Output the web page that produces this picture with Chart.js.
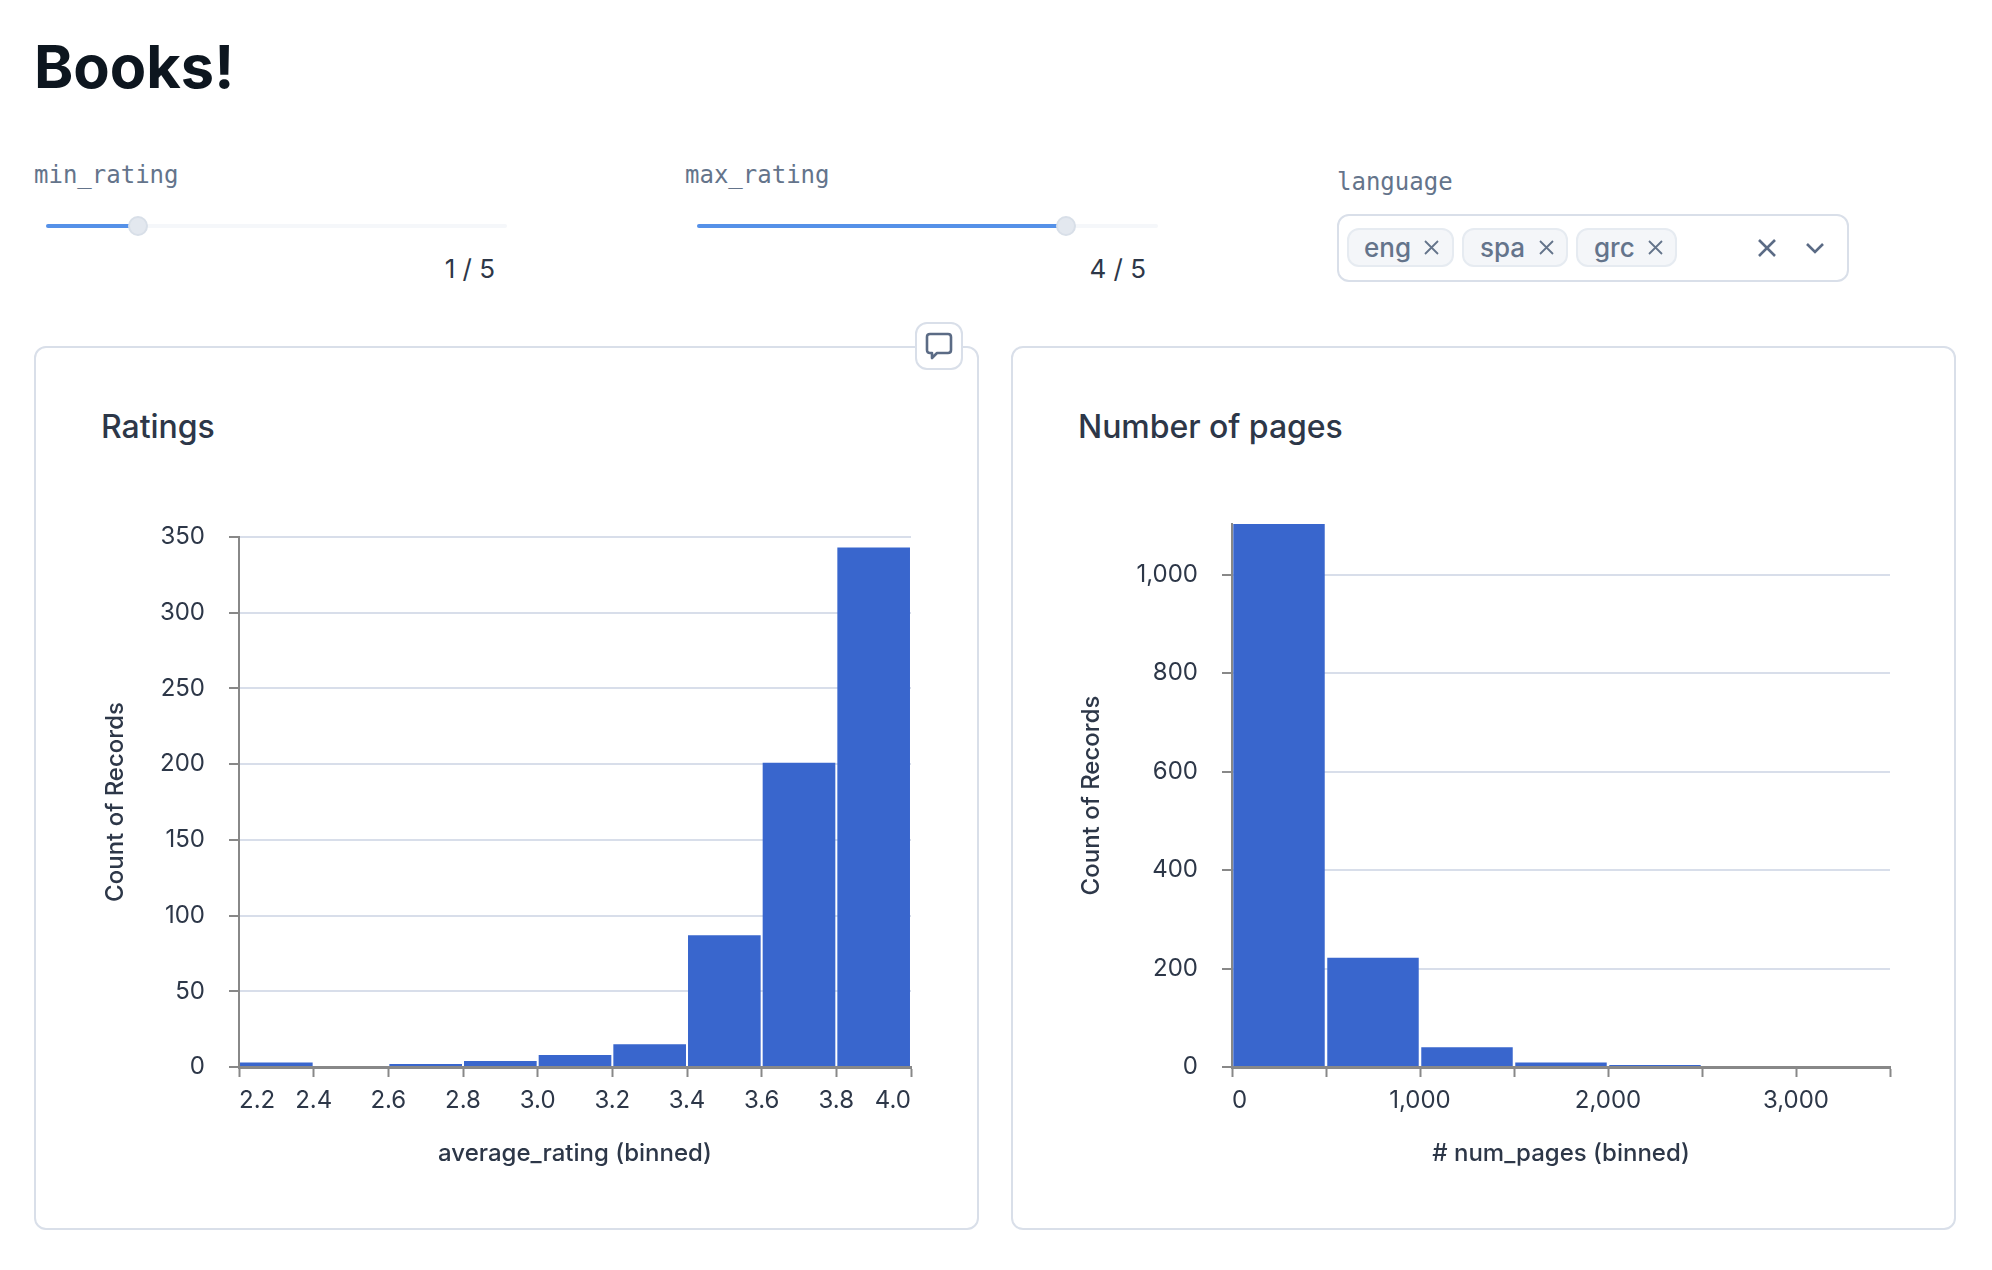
<!DOCTYPE html>
<html>
<head>
<meta charset="utf-8">
<script src="https://cdn.jsdelivr.net/npm/chart.js@4/dist/chart.umd.min.js"></script>
<style>
html,body{margin:0;padding:0;background:#fff;width:1992px;height:1270px;overflow:hidden;font-family:Inter,sans-serif;}
.a{position:absolute;box-sizing:border-box;white-space:nowrap;}
.mono{font-family:"DejaVu Sans Mono",monospace;font-size:24px;line-height:30px;color:#64748b;}
.track{height:4px;background:#f5f7fa;border-radius:2px;top:224px;}
.fill{height:4px;background:#5591e8;border-radius:2px;top:224px;}
.thumb{width:20px;height:20px;border-radius:50%;background:#e3e8ef;border:2px solid #d8dfe8;top:216px;}
.val{font-size:26px;line-height:30px;color:#2d3748;top:254px;}
.card{border:2px solid #d9dfe9;border-radius:12px;background:#fff;}
.ct{font-size:32px;font-weight:500;line-height:40px;color:#2d3748;top:407px;letter-spacing:-0.05px;}
.chip{top:228px;height:39px;background:#f4f6f9;border:2px solid #e6ebf1;border-radius:12px;}
.chipt{font-size:26px;font-weight:500;line-height:36px;color:#64748b;top:230px;}
canvas{position:absolute;}
</style>
</head>
<body>
<div class="a" style="left:34px;top:30px;font-size:59.5px;font-weight:700;line-height:72px;color:#0d161f;">Books!</div>

<div class="a mono" style="left:34px;top:160px;">min_rating</div>
<div class="a track" style="left:46px;width:461px;"></div>
<div class="a fill" style="left:46px;width:92px;"></div>
<div class="a thumb" style="left:128px;"></div>
<div class="a val" style="right:1497px;">1 / 5</div>

<div class="a mono" style="left:685px;top:160px;">max_rating</div>
<div class="a track" style="left:697px;width:461px;"></div>
<div class="a fill" style="left:697px;width:369px;"></div>
<div class="a thumb" style="left:1056px;"></div>
<div class="a val" style="right:846px;">4 / 5</div>

<div class="a mono" style="left:1337px;top:167px;">language</div>
<div class="a" style="left:1337px;top:214px;width:512px;height:68px;border:2px solid #d9dfe9;border-radius:12px;"></div>
<div class="a chip" style="left:1347px;width:107px;"></div>
<div class="a chipt" style="left:1364px;">eng</div>
<svg class="a" style="left:1424px;top:240px;" width="15" height="15" viewBox="0 0 15 15"><path d="M1 1L14 14M14 1L1 14" stroke="#64748b" stroke-width="1.8" fill="none"/></svg>
<div class="a chip" style="left:1462px;width:106px;"></div>
<div class="a chipt" style="left:1480px;">spa</div>
<svg class="a" style="left:1539px;top:240px;" width="15" height="15" viewBox="0 0 15 15"><path d="M1 1L14 14M14 1L1 14" stroke="#64748b" stroke-width="1.8" fill="none"/></svg>
<div class="a chip" style="left:1576px;width:101px;"></div>
<div class="a chipt" style="left:1594px;">grc</div>
<svg class="a" style="left:1648px;top:240px;" width="15" height="15" viewBox="0 0 15 15"><path d="M1 1L14 14M14 1L1 14" stroke="#64748b" stroke-width="1.8" fill="none"/></svg>
<svg class="a" style="left:1757px;top:238px;" width="20" height="20" viewBox="0 0 20 20"><path d="M2 2L18 18M18 2L2 18" stroke="#5b6b85" stroke-width="2.6" fill="none"/></svg>
<svg class="a" style="left:1805px;top:241px;" width="20" height="14" viewBox="0 0 20 14"><path d="M2 3L10 11L18 3" stroke="#5b6b85" stroke-width="2.6" fill="none"/></svg>

<div class="a card" style="left:34px;top:346px;width:945px;height:884px;"></div>
<div class="a card" style="left:1011px;top:346px;width:945px;height:884px;"></div>
<div class="a ct" style="left:101px;">Ratings</div>
<div class="a ct" style="left:1078px;">Number of pages</div>

<canvas id="c1" width="855" height="687" style="left:60px;top:500px;"></canvas>
<canvas id="c2" width="834" height="687" style="left:1060px;top:500px;"></canvas>

<div class="a" style="left:915px;top:322px;width:48px;height:48px;background:#fff;border:2px solid #d9dfe9;border-radius:12px;"></div>
<svg class="a" style="left:925px;top:332px;" width="28" height="28" viewBox="0 0 28 28"><path d="M5 2H23Q26 2 26 5V18Q26 21 23 21H12L7 26V21H5Q2 21 2 18V5Q2 2 5 2Z" stroke="#5b6b85" stroke-width="2.6" fill="none" stroke-linejoin="round"/></svg>

<script>
const ratingBinCenters = [2.3, 2.5, 2.7, 2.9, 3.1, 3.3, 3.5, 3.7, 3.9];
const ratingCounts = [3, 0, 2, 4, 8, 15, 87, 201, 343];
const pageBinCenters = [250, 750, 1250, 1750, 2250, 2750, 3250];
const pageCounts = [1103, 222, 40, 9, 4, 2, 2];

const yTitle = "Count of Records";
const ratingXTitle = "average_rating (binned)";
const pageXTitle = "# num_pages (binned)";

const TEXT = "#2d3748", AXIS = "#888888", GRID = "#d8deea", BAR = "#3966cd";
const tickFont = {family: "Inter", size: 24, weight: "400"};
const titleFont = {family: "Inter", size: 24, weight: "500"};

function histogram(id, centers, counts, cfg) {
  new Chart(document.getElementById(id), {
    type: "bar",
    data: {datasets: [{
      data: centers.map((c, i) => ({x: c, y: counts[i]})),
      backgroundColor: BAR,
      borderWidth: 0,
      barPercentage: 0.973,
      categoryPercentage: 1
    }]},
    options: {
      responsive: false,
      animation: false,
      devicePixelRatio: 1,
      layout: {padding: {top: cfg.padTop, right: 4, left: 0, bottom: 0}},
      plugins: {legend: {display: false}, title: {display: false}, tooltip: {enabled: false}},
      scales: {
        x: {
          type: "linear", min: cfg.xMin, max: cfg.xMax, offset: false,
          title: {display: true, text: cfg.xTitle, color: TEXT, font: titleFont, padding: {top: 0, bottom: 19}},
          grid: {display: true, offset: false, drawOnChartArea: false, drawTicks: true, tickLength: 10, tickWidth: 2, tickColor: AXIS},
          border: {display: true, color: AXIS, width: 3, z: 1},
          ticks: {stepSize: cfg.xStep, autoSkip: false, maxRotation: 0, minRotation: 0, align: "inner",
                  color: TEXT, font: tickFont, padding: 9, callback: cfg.xFmt},
          afterFit(s) { s.height = 120; s.paddingLeft = 0; s.paddingRight = 0; }
        },
        y: {
          type: "linear", min: 0, max: cfg.yMax,
          title: {display: true, text: yTitle, color: TEXT, font: titleFont, padding: {top: cfg.titlePad, bottom: 0}},
          grid: {color: GRID, lineWidth: 2, drawTicks: true, tickLength: 10, tickWidth: 2, tickColor: AXIS},
          border: {display: true, color: AXIS, width: 2, z: 1},
          ticks: {stepSize: cfg.yStep, includeBounds: false, color: TEXT, font: tickFont, padding: 24,
                  callback: v => v.toLocaleString("en-US")},
          afterFit(s) { s.width = cfg.yWidth; s.paddingTop = 0; s.paddingBottom = 0; }
        }
      }
    }
  });
}

histogram("c1", ratingBinCenters, ratingCounts, {
  xMin: 2.2, xMax: 4.0, xStep: 0.2, yMax: 350, yStep: 50, padTop: 37, yWidth: 179, titlePad: 41,
  xTitle: ratingXTitle, xFmt: v => v.toFixed(1)
});
histogram("c2", pageBinCenters, pageCounts, {
  xMin: 0, xMax: 3500, xStep: 500, yMax: 1103, yStep: 200, padTop: 24, yWidth: 172, titlePad: 17,
  xTitle: pageXTitle, xFmt: v => (v % 1000 === 0 ? v.toLocaleString("en-US") : "")
});
</script>
</body>
</html>
